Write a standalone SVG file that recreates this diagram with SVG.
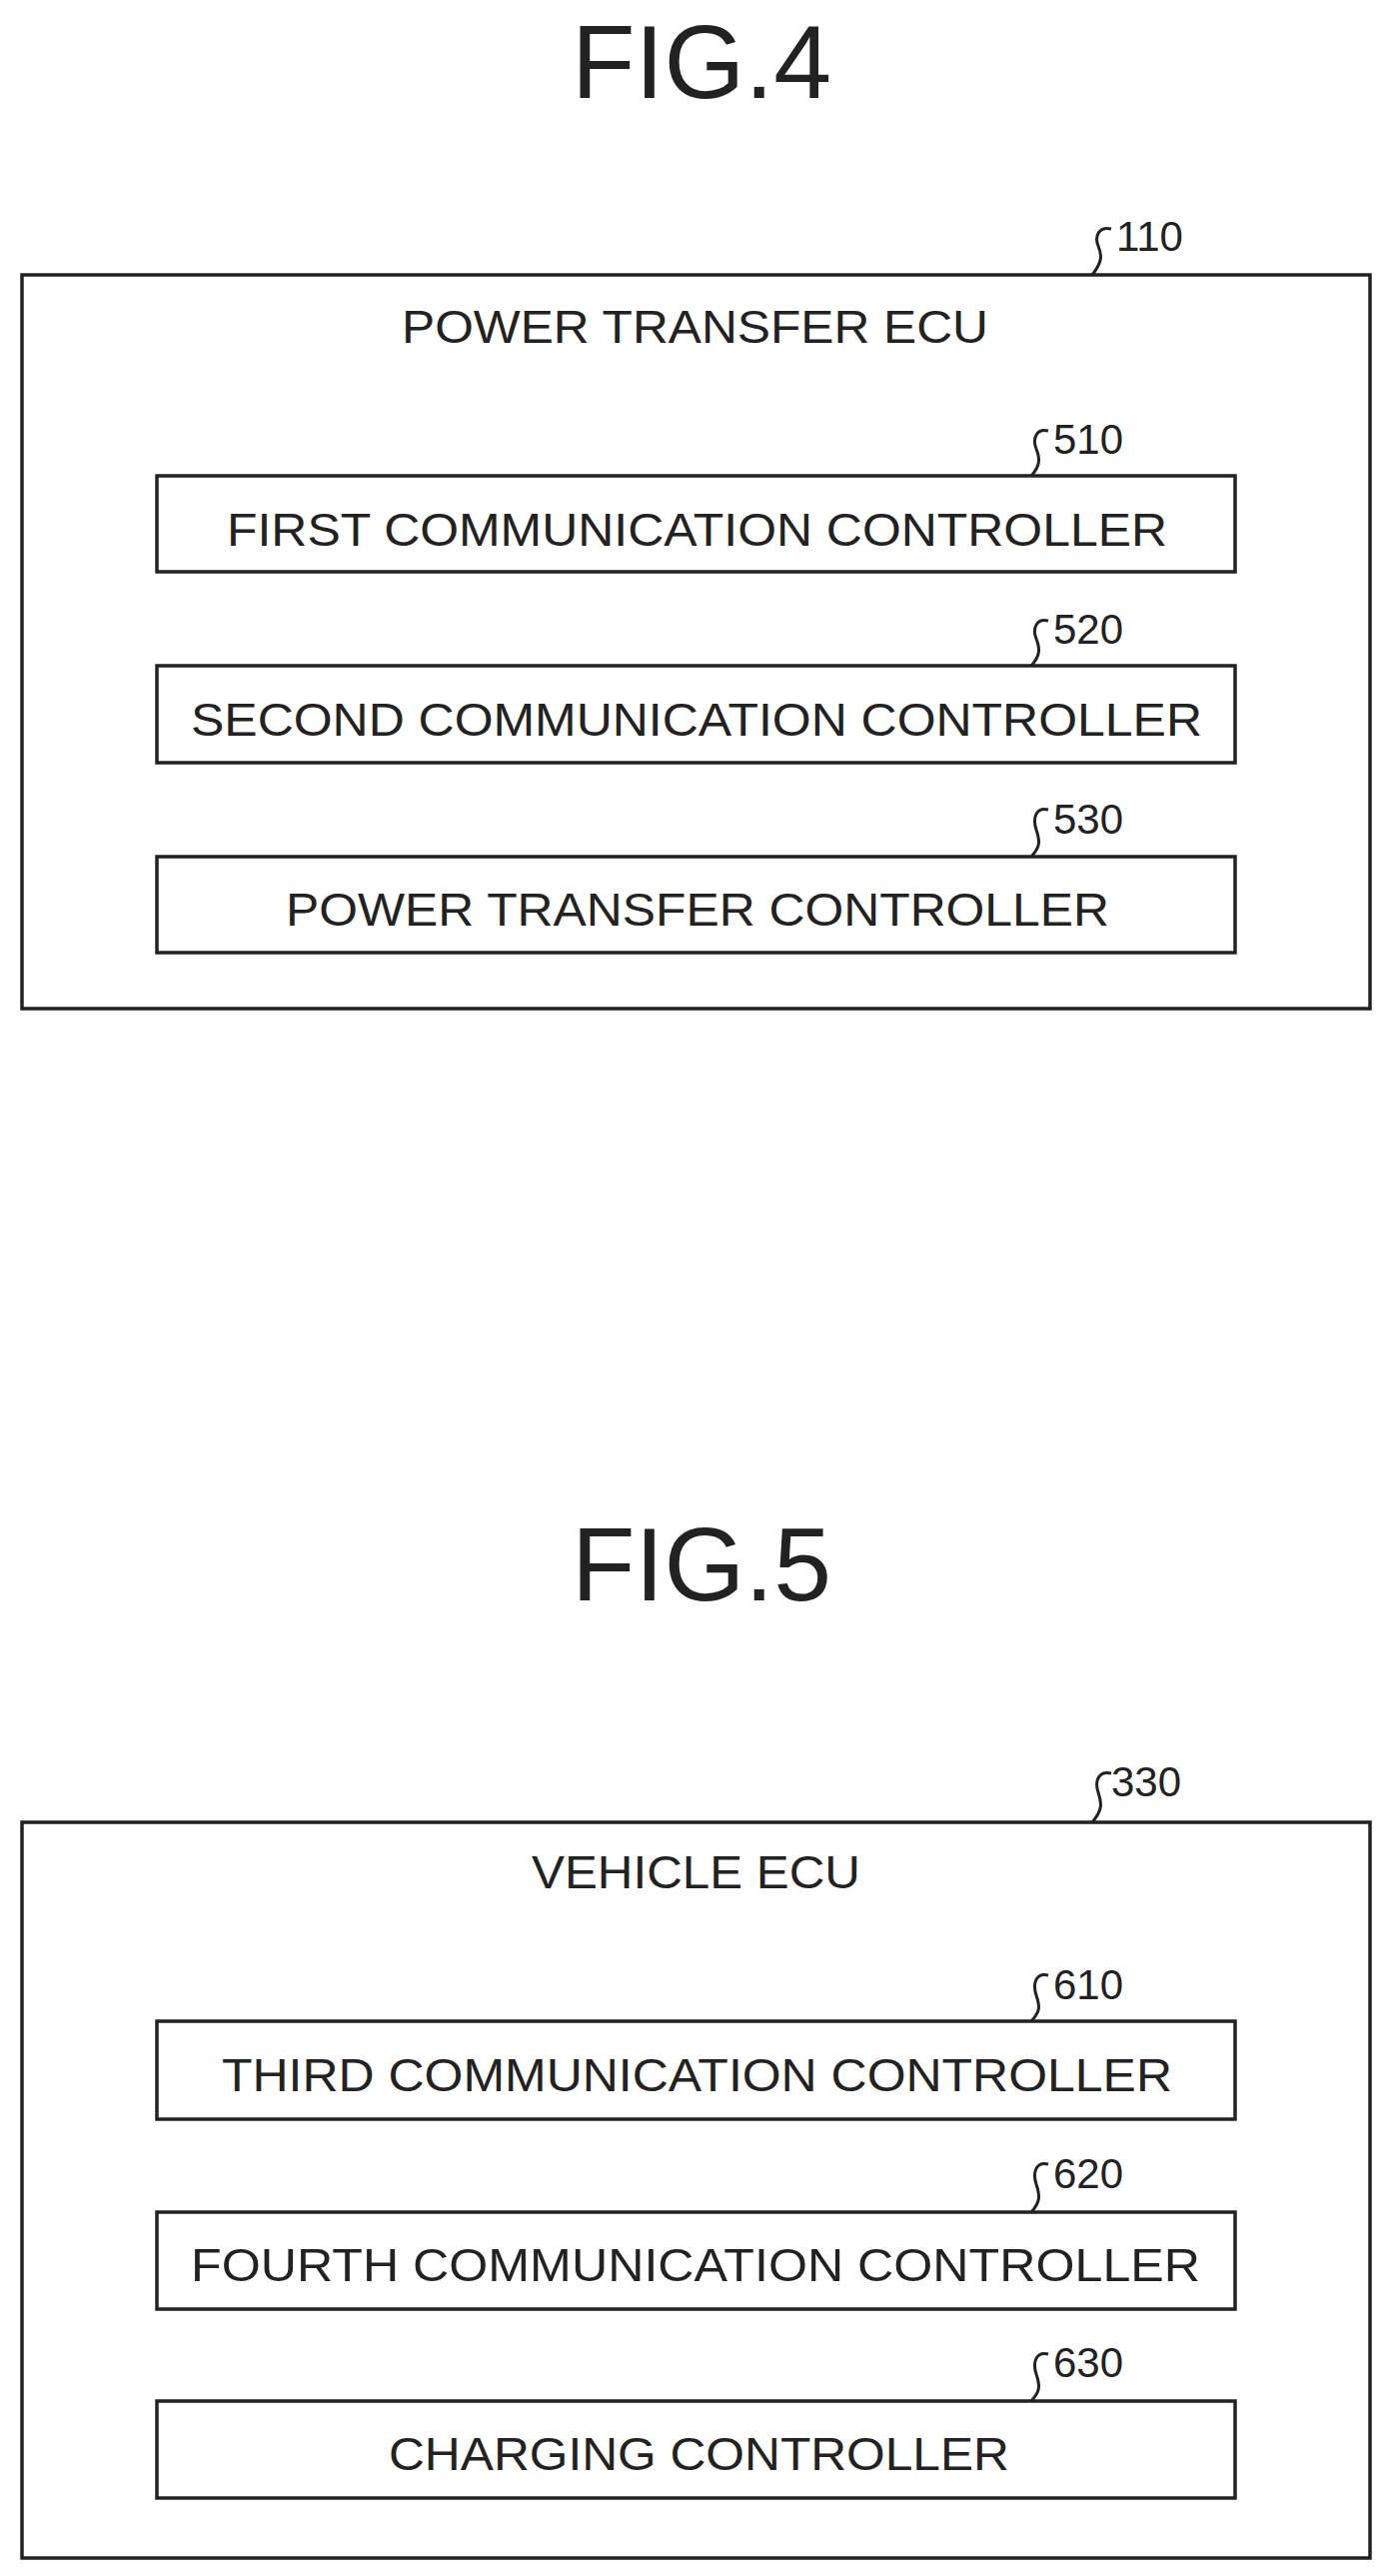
<svg xmlns="http://www.w3.org/2000/svg" width="1388" height="2577" viewBox="0 0 1388 2577">
<style>
.box{fill:none;stroke:#222;stroke-width:3.5}
.t{font-family:"Liberation Sans",Arial,sans-serif;font-size:46px;fill:#222}
.ref{font-family:"Liberation Sans",Arial,sans-serif;font-size:42px;fill:#222}
.fig{font-family:"Liberation Sans",Arial,sans-serif;font-size:104px;fill:#222}
.sq{fill:none;stroke:#222;stroke-width:3}
</style>
<rect width="1388" height="2577" fill="#fff"/>
<text class="fig" x="702" y="98" text-anchor="middle">FIG.4</text>
<g id="n110">
<rect class="box" x="22" y="275" width="1349" height="734"/>
<text class="t" x="402" y="343" textLength="587" lengthAdjust="spacingAndGlyphs">POWER TRANSFER ECU</text>
<text class="ref" x="1117" y="251">110</text>
</g>
<g id="n510">
<rect class="box" x="157" y="476" width="1079" height="96"/>
<text class="t" x="227" y="546" textLength="941" lengthAdjust="spacingAndGlyphs">FIRST COMMUNICATION CONTROLLER</text>
<text class="ref" x="1054" y="454">510</text>
</g>
<g id="n520">
<rect class="box" x="157" y="666" width="1079" height="97"/>
<text class="t" x="191" y="736" textLength="1012" lengthAdjust="spacingAndGlyphs">SECOND COMMUNICATION CONTROLLER</text>
<text class="ref" x="1054" y="644">520</text>
</g>
<g id="n530">
<rect class="box" x="157" y="857" width="1079" height="96"/>
<text class="t" x="286" y="926" textLength="824" lengthAdjust="spacingAndGlyphs">POWER TRANSFER CONTROLLER</text>
<text class="ref" x="1054" y="834">530</text>
</g>
<text class="fig" x="702" y="1601" text-anchor="middle">FIG.5</text>
<g id="n330">
<rect class="box" x="22" y="1823" width="1349" height="736"/>
<text class="t" x="532" y="1889" textLength="329" lengthAdjust="spacingAndGlyphs">VEHICLE ECU</text>
<text class="ref" x="1112" y="1797">330</text>
</g>
<g id="n610">
<rect class="box" x="157" y="2022" width="1079" height="98"/>
<text class="t" x="222" y="2092" textLength="951" lengthAdjust="spacingAndGlyphs">THIRD COMMUNICATION CONTROLLER</text>
<text class="ref" x="1054" y="2000">610</text>
</g>
<g id="n620">
<rect class="box" x="157" y="2213" width="1079" height="97"/>
<text class="t" x="191" y="2282" textLength="1010" lengthAdjust="spacingAndGlyphs">FOURTH COMMUNICATION CONTROLLER</text>
<text class="ref" x="1054" y="2189">620</text>
</g>
<g id="n630">
<rect class="box" x="157" y="2402" width="1079" height="97"/>
<text class="t" x="389" y="2471" textLength="621" lengthAdjust="spacingAndGlyphs">CHARGING CONTROLLER</text>
<text class="ref" x="1054" y="2378">630</text>
</g>
<g id="connectors">
<path class="sq" d="M1112 229 C1100 226 1095 236 1099 246 S1103 262 1093 275"/>
<path class="sq" d="M1049 431 C1037 428 1033 439 1037 449 S1041 466 1032 476"/>
<path class="sq" d="M1049 621 C1037 618 1033 629 1037 639 S1041 656 1032 666"/>
<path class="sq" d="M1049 810 C1037 807 1033 818 1037 830 S1041 847 1032 857"/>
<path class="sq" d="M1112 1774 C1100 1771 1095 1781 1099 1793 S1103 1811 1093 1823"/>
<path class="sq" d="M1049 1976 C1037 1973 1033 1984 1037 1996 S1041 2012 1032 2022"/>
<path class="sq" d="M1049 2165 C1037 2162 1033 2173 1037 2185 S1041 2203 1032 2213"/>
<path class="sq" d="M1049 2355 C1037 2352 1033 2363 1037 2375 S1041 2392 1032 2402"/>
</g>
</svg>
